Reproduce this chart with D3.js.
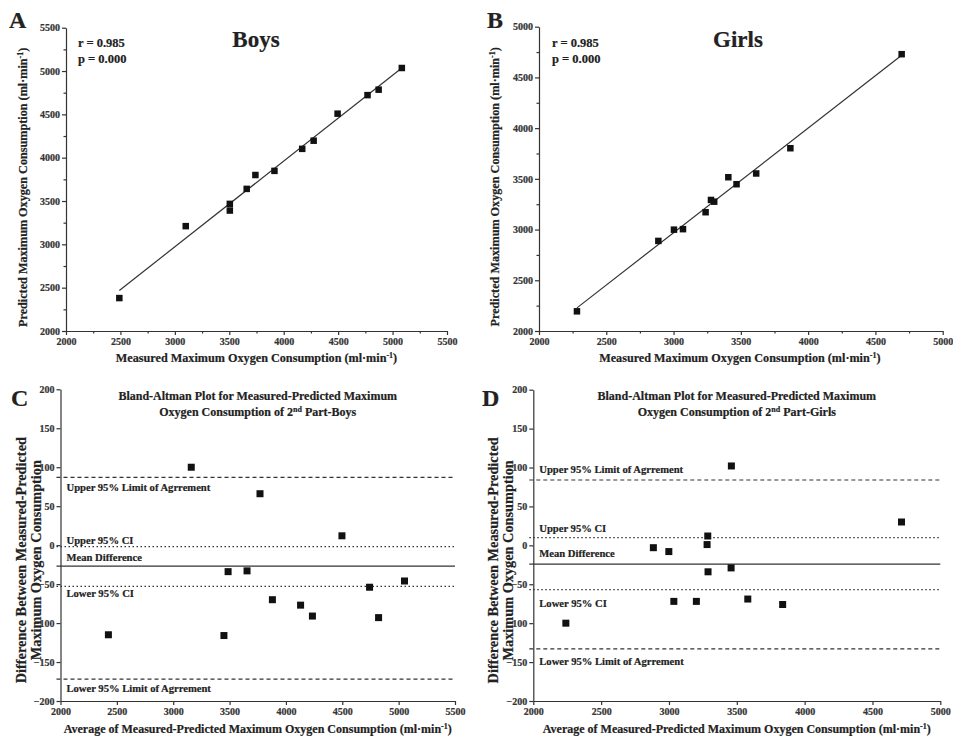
<!DOCTYPE html>
<html>
<head>
<meta charset="utf-8">
<script src="https://cdn.jsdelivr.net/npm/d3@7"></script>
<style>
  body { margin: 0; background: #fff; }
  text { font-family: "Liberation Serif", "Times New Roman", serif; font-weight: bold; fill: #222; stroke: #222; stroke-width: 0.2; }
  .axis path, .axis line { stroke: #333; stroke-width: 1.2; }
  .axis text { font-size: 10px; fill: #333; stroke: #333; }
</style>
</head>
<body>
<div id="canvas"></div>
<script>
// boys, measured vs predicted (panel A)
var boysMeasured  = [2490, 3100, 3505, 3505, 3660, 3740, 3915, 4170, 4275, 4495, 4770, 4872, 5085];
var boysPredicted = [2380, 3210, 3467, 3390, 3640, 3800, 3848, 4102, 4196, 4508, 4722, 4785, 5035];
// girls, measured vs predicted (panel B)
var girlsMeasured  = [2282, 2887, 3003, 3070, 3238, 3278, 3302, 3407, 3468, 3614, 3868, 4695];
var girlsPredicted = [2194, 2888, 2999, 3004, 3171, 3292, 3275, 3516, 3447, 3553, 3802, 4729];
// bland-altman boys (panel C)
var boysAvg  = [2425, 3160, 3450, 3487, 3655, 3770, 3880, 4130, 4235, 4497, 4742, 4822, 5052];
var boysDiff = [-115, 100, -116, -34, -33, 66, -70, -77, -91, 12, -54, -93, -46];
// bland-altman girls (panel D)
var girlsAvg  = [2240, 2885, 2999, 3036, 3202, 3281, 3286, 3288, 3458, 3460, 3581, 3838, 4714];
var girlsDiff = [-100, -3, -8, -72, -72, 1, 12, -34, -29, 102, -69, -76, 30];
// reference lines: upper LoA, upper CI, mean, lower CI, lower LoA
var lineNames = ["Upper 95% Limit of Agrrement", "Upper 95% CI", "Mean Difference", "Lower 95% CI", "Lower 95% Limit of Agrrement"];
var boysLines  = [87, -2, -27, -53, -172];
var girlsLines = [84, 10, -24, -57, -133];
// ticks
var ticksBoys  = [2000, 2500, 3000, 3500, 4000, 4500, 5000, 5500];
var ticksGirls = [2000, 2500, 3000, 3500, 4000, 4500, 5000];
var ticksDiff  = [-200, -150, -100, -50, 0, 50, 100, 150, 200];

var width = 953, height = 742;
var svg = d3.select("#canvas").append("svg").attr("width", width).attr("height", height);

var lineStyle = ["4,3", "1.5,2.5", null, "1.5,2.5", "4,3"];

var unitLabel = function(t, pre) {
	t.append("tspan").text(pre + " (ml·min");
	t.append("tspan").text("-1").attr("font-size", "8px").attr("baseline-shift", "super");
	t.append("tspan").text(")");
}

var minor = function(ticks) {
	var m = [];
	for (var i = 0; i < ticks.length - 1; i++) m.push((ticks[i] + ticks[i + 1]) / 2);
	return m;
}

var drawAxes = function(x, y, xt, yt, withMinor) {
	var x0 = x.range()[0], y0 = y.range()[0];
	svg.append("g").attr("class", "axis").attr("transform", "translate(0," + y0 + ")")
		.call(d3.axisBottom(x).tickValues(xt).tickSize(4).tickSizeOuter(0).tickPadding(3).tickFormat(d3.format("d")));
	svg.append("g").attr("class", "axis").attr("transform", "translate(" + x0 + ",0)")
		.call(d3.axisLeft(y).tickValues(yt).tickSize(4).tickSizeOuter(0).tickPadding(2).tickFormat(d3.format("d")));
	if (withMinor) {
		svg.append("g").attr("class", "axis").attr("transform", "translate(0," + y0 + ")")
			.call(d3.axisBottom(x).tickValues(minor(xt)).tickSize(2.5).tickSizeOuter(0).tickFormat(""))
			.select(".domain").remove();
		svg.append("g").attr("class", "axis").attr("transform", "translate(" + x0 + ",0)")
			.call(d3.axisLeft(y).tickValues(minor(yt)).tickSize(2.5).tickSizeOuter(0).tickFormat(""))
			.select(".domain").remove();
	}
}

var drawPoints = function(x, y, xs, ys, s) {
	svg.append("g").selectAll("rect").data(xs).enter().append("rect")
		.attr("x", function(d) { return x(d) - s / 2; })
		.attr("y", function(d, i) { return y(ys[i]) - s / 2; })
		.attr("width", s).attr("height", s)
		.attr("fill", "#111");
}

// scatter panel with regression line
var scatterPanel = function(o) {
	var x = d3.scaleLinear().domain(d3.extent(o.ticks)).range(o.xr);
	var y = d3.scaleLinear().domain(d3.extent(o.ticks)).range(o.yr);
	drawAxes(x, y, o.ticks, o.ticks, true);

	var mx = d3.mean(o.xs), my = d3.mean(o.ys);
	var sxy = 0, sxx = 0;
	for (var i = 0; i < o.xs.length; i++) {
		sxy += (o.xs[i] - mx) * (o.ys[i] - my);
		sxx += (o.xs[i] - mx) * (o.xs[i] - mx);
	}
	var b = sxy / sxx, a = my - b * mx;
	var ext = d3.extent(o.xs);
	svg.append("line")
		.attr("x1", x(ext[0])).attr("y1", y(a + b * ext[0]))
		.attr("x2", x(ext[1])).attr("y2", y(a + b * ext[1]))
		.attr("stroke", "#333").attr("stroke-width", 1.2);
	drawPoints(x, y, o.xs, o.ys, 6.5);

	svg.append("text").text(o.letter).attr("x", o.letterX).attr("y", 28).style("font-size", "24px");
	svg.append("text").text("r = 0.985").attr("x", x.range()[0] + o.statDx).attr("y", 47).style("font-size", "12.5px");
	svg.append("text").text("p = 0.000").attr("x", x.range()[0] + o.statDx).attr("y", 63).style("font-size", "12.5px");
	svg.append("text").text(o.title).attr("x", o.titleX).attr("y", 47)
		.attr("text-anchor", "middle").style("font-size", "23px");

	var xl = svg.append("text").attr("x", (o.xr[0] + o.xr[1]) / 2 + o.xlDx).attr("y", 362)
		.attr("text-anchor", "middle").style("font-size", "12.2px");
	unitLabel(xl, "Measured Maximum Oxygen Consumption");
	var yl = svg.append("text").attr("transform", "translate(" + o.ylX + "," + ((o.yr[0] + o.yr[1]) / 2 + 8) + ") rotate(-90)")
		.attr("text-anchor", "middle").style("font-size", "12.2px");
	unitLabel(yl, "Predicted Maximum Oxygen Consumption");
}

// bland-altman panel
var baPanel = function(o) {
	var x = d3.scaleLinear().domain(d3.extent(o.ticks)).range(o.xr);
	var y = d3.scaleLinear().domain(d3.extent(ticksDiff)).range(o.yr);
	drawAxes(x, y, o.ticks, ticksDiff, false);

	o.lines.forEach(function(v, i) {
		svg.append("line")
			.attr("x1", x.range()[0] - 4).attr("x2", x.range()[1])
			.attr("y1", y(v)).attr("y2", y(v))
			.attr("stroke", "#333").attr("stroke-width", 1.2)
			.attr("stroke-dasharray", lineStyle[i]);
		svg.append("text").text(lineNames[i])
			.attr("x", x.range()[0] + 6).attr("y", y(v) + o.labelDy[i])
			.style("font-size", "10.6px");
	});
	drawPoints(x, y, o.xs, o.ys, 7);

	svg.append("text").text(o.letter).attr("x", o.letterX).attr("y", 406).style("font-size", "24px");
	var cx = (o.xr[0] + o.xr[1]) / 2 + o.titleDx;
	svg.append("text").text("Bland-Altman Plot for Measured-Predicted Maximum")
		.attr("x", cx).attr("y", 400).attr("text-anchor", "middle").style("font-size", "12px");
	var t2 = svg.append("text").attr("x", cx).attr("y", 416).attr("text-anchor", "middle").style("font-size", "12px");
	t2.append("tspan").text("Oxygen Consumption of 2");
	t2.append("tspan").text("nd").attr("font-size", "8px").attr("baseline-shift", "super");
	t2.append("tspan").text(" Part-" + o.group);

	var xl = svg.append("text").attr("x", cx).attr("y", 733)
		.attr("text-anchor", "middle").style("font-size", "12px");
	unitLabel(xl, "Average of Measured-Predicted Maximum Oxygen Consumption");
	var cy = (o.yr[0] + o.yr[1]) / 2 + 15;
	svg.append("text").text("Difference Between Measured-Predicted")
		.attr("transform", "translate(" + o.ylX + "," + cy + ") rotate(-90)")
		.attr("text-anchor", "middle").style("font-size", "14.3px");
	svg.append("text").text("Maximum Oxygen Consumption")
		.attr("transform", "translate(" + (o.ylX + 15) + "," + cy + ") rotate(-90)")
		.attr("text-anchor", "middle").style("font-size", "14.3px");
}

scatterPanel({ letter: "A", letterX: 9, title: "Boys", titleX: 256, xs: boysMeasured, ys: boysPredicted,
	ticks: ticksBoys, xr: [66, 447], yr: [331, 27.7], statDx: 12, xlDx: 0, ylX: 27 });
scatterPanel({ letter: "B", letterX: 487, title: "Girls", titleX: 738, xs: girlsMeasured, ys: girlsPredicted,
	ticks: ticksGirls, xr: [539, 942.7], yr: [331, 26.7], statDx: 13, xlDx: -1, ylX: 499 });
baPanel({ letter: "C", letterX: 11, group: "Boys", xs: boysAvg, ys: boysDiff, lines: boysLines,
	ticks: ticksBoys, xr: [60.5, 455], yr: [701, 389.3], titleDx: 0, ylX: 26,
	labelDy: [14, -3, -5, 11, 13] });
baPanel({ letter: "D", letterX: 482, group: "Girls", xs: girlsAvg, ys: girlsDiff, lines: girlsLines,
	ticks: ticksGirls, xr: [533.3, 940.3], yr: [701, 389.7], titleDx: 0, ylX: 498,
	labelDy: [-7, -6, -7, 17, 16] });
</script>
</body>
</html>
